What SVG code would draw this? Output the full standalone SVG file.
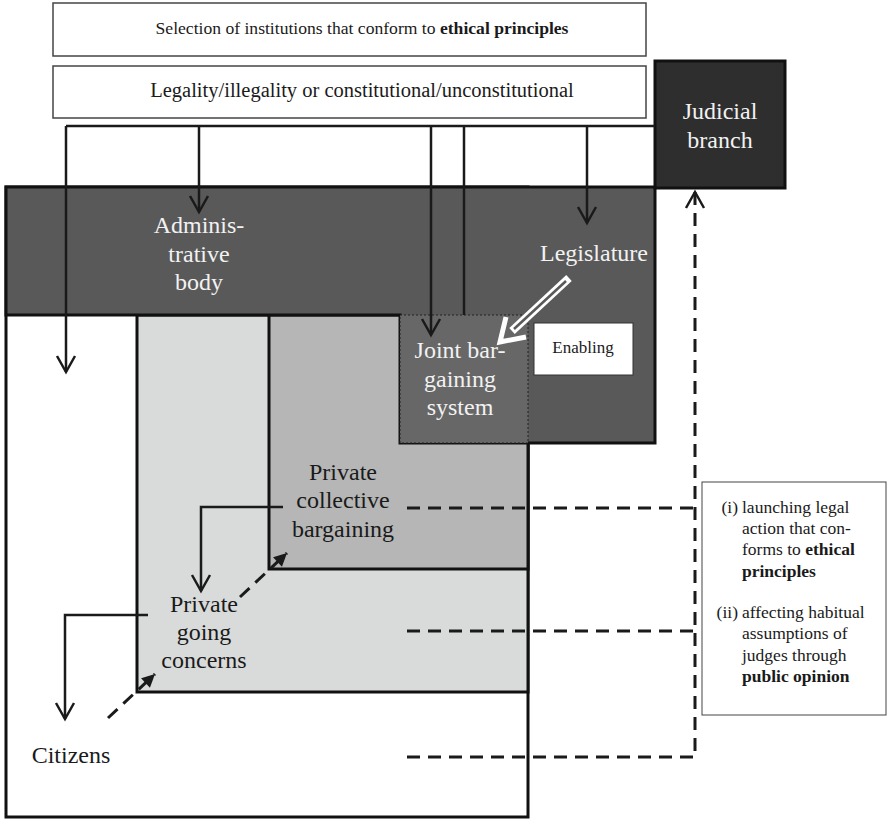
<svg xmlns="http://www.w3.org/2000/svg" width="888" height="820" viewBox="0 0 888 820" font-family="'Liberation Serif', Tinos, 'DejaVu Serif', serif">
<style>
text{font-family:'Liberation Serif', Tinos, 'DejaVu Serif', serif;}
.lbl{font-size:24px;text-anchor:middle;}
.wt{fill:#f2f2f2;}
.dk{fill:#1a1a1a;}
.box{fill:#fff;stroke:#444;stroke-width:1.5;}
.reg{stroke:#111;stroke-width:3;}
.conn{fill:none;stroke:#1a1a1a;stroke-width:2.5;}
.dash{fill:none;stroke:#1a1a1a;stroke-width:3;stroke-dasharray:13 8;}
.info{font-size:17.5px;fill:#1a1a1a;}
</style>
<defs>
<marker id="open" markerUnits="userSpaceOnUse" viewBox="-20 -12 24 24" markerWidth="24" markerHeight="24" refX="0" refY="0" orient="auto" overflow="visible">
<path d="M-16,-9 L0,0 L-16,9" fill="none" stroke="#1a1a1a" stroke-width="2.5" stroke-linejoin="miter"/>
</marker>
<marker id="solid" markerUnits="userSpaceOnUse" viewBox="-14 -7 16 14" markerWidth="16" markerHeight="14" refX="0" refY="0" orient="auto" overflow="visible">
<path d="M-13,-6.5 L0,0 L-13,6.5 Z" fill="#1a1a1a"/>
</marker>
</defs>

<g id="top-box-ethical">
<rect class="box" x="53" y="3" width="593" height="53"/>
<text x="362" y="34" font-size="17.6" text-anchor="middle" class="dk">Selection of institutions that conform to <tspan font-weight="bold">ethical principles</tspan></text>
</g>
<g id="top-box-legality">
<rect class="box" x="53" y="66" width="593" height="52"/>
<text x="362" y="97" font-size="20.5" text-anchor="middle" class="dk">Legality/illegality or constitutional/unconstitutional</text>
</g>

<g id="citizens">
<rect class="reg" x="6" y="187" width="522" height="630" fill="#fff"/>
<text class="lbl dk" x="71" y="763">Citizens</text>
</g>
<g id="private-going-concerns">
<rect class="reg" x="137" y="315" width="391" height="377" fill="#d9dbda"/>
<text class="lbl dk" x="204" y="612">Private</text>
<text class="lbl dk" x="204" y="640">going</text>
<text class="lbl dk" x="204" y="668">concerns</text>
</g>
<g id="private-collective-bargaining">
<rect class="reg" x="269" y="315" width="259" height="254" fill="#b5b6b5"/>
<text class="lbl dk" x="343" y="480">Private</text>
<text class="lbl dk" x="343" y="508">collective</text>
<text class="lbl dk" x="343" y="537">bargaining</text>
</g>
<g id="administrative-legislature">
<path class="reg" d="M6,187 H655 V443 H400 V315 H6 Z" fill="#595959"/>
<text class="lbl wt" x="199" y="233">Adminis-</text>
<text class="lbl wt" x="199" y="262">trative</text>
<text class="lbl wt" x="199" y="290">body</text>
<text class="lbl wt" x="594" y="261">Legislature</text>
</g>
<g id="joint-bargaining-system">
<rect x="400" y="315" width="128" height="128" fill="#676767" stroke="#222" stroke-width="1" stroke-dasharray="2 2"/>
<text class="lbl wt" x="460" y="358">Joint bar-</text>
<text class="lbl wt" x="460" y="387">gaining</text>
<text class="lbl wt" x="460" y="415">system</text>
</g>
<g id="enabling">
<rect x="534" y="323" width="99" height="52" fill="#fff" stroke="#333" stroke-width="1"/>
<text x="583" y="353" font-size="17" text-anchor="middle" class="dk">Enabling</text>
</g>
<g id="judicial-branch">
<rect x="655" y="61" width="130" height="127" fill="#2e2e2e" stroke="#111" stroke-width="3"/>
<text class="lbl wt" x="720" y="119">Judicial</text>
<text class="lbl wt" x="720" y="148">branch</text>
</g>
<g id="info-box">
<rect x="702" y="482" width="184" height="233" fill="#fff" stroke="#444" stroke-width="1"/>
<text class="info" x="738" y="513" text-anchor="end">(i)</text>
<text class="info" x="742" y="513">launching legal</text>
<text class="info" x="742" y="534">action that con-</text>
<text class="info" x="742" y="555">forms to <tspan font-weight="bold">ethical</tspan></text>
<text class="info" x="742" y="577" font-weight="bold">principles</text>
<text class="info" x="738" y="618" text-anchor="end">(ii)</text>
<text class="info" x="742" y="618">affecting habitual</text>
<text class="info" x="742" y="639">assumptions of</text>
<text class="info" x="742" y="661">judges through</text>
<text class="info" x="742" y="682" font-weight="bold">public opinion</text>
</g>

<g id="connectors">
<path class="conn" d="M66,126 H655"/>
<path class="conn" d="M66,126 V372" marker-end="url(#open)"/>
<path class="conn" d="M199,126 V212" marker-end="url(#open)"/>
<path class="conn" d="M431,126 V335" marker-end="url(#open)"/>
<path class="conn" d="M464,126 V315"/>
<path class="conn" d="M587,126 V223" marker-end="url(#open)"/>
<path class="conn" d="M283,507 H201 V591" marker-end="url(#open)"/>
<path class="conn" d="M148,615 H65 V719" marker-end="url(#open)"/>
<path class="dash" d="M240,597 L287,553" stroke-dasharray="11 7" marker-end="url(#solid)"/>
<path class="dash" d="M108,718 L155,674" stroke-dasharray="11 7" marker-end="url(#solid)"/>
<path class="dash" d="M407,508 H695"/>
<path class="dash" d="M407,631 H695"/>
<path class="dash" d="M407,757 H695 V192" marker-end="url(#open)"/>
<g id="enabling-arrow">
<path d="M569,278 L512,331" stroke="#fff" stroke-width="8" stroke-linecap="butt"/>
<path d="M566,281 L514,329" stroke="#595959" stroke-width="2.5"/>
<path d="M526,337 L500,342 L506,317" fill="none" stroke="#fff" stroke-width="5" stroke-linejoin="miter"/>
</g>
</g>
</svg>
